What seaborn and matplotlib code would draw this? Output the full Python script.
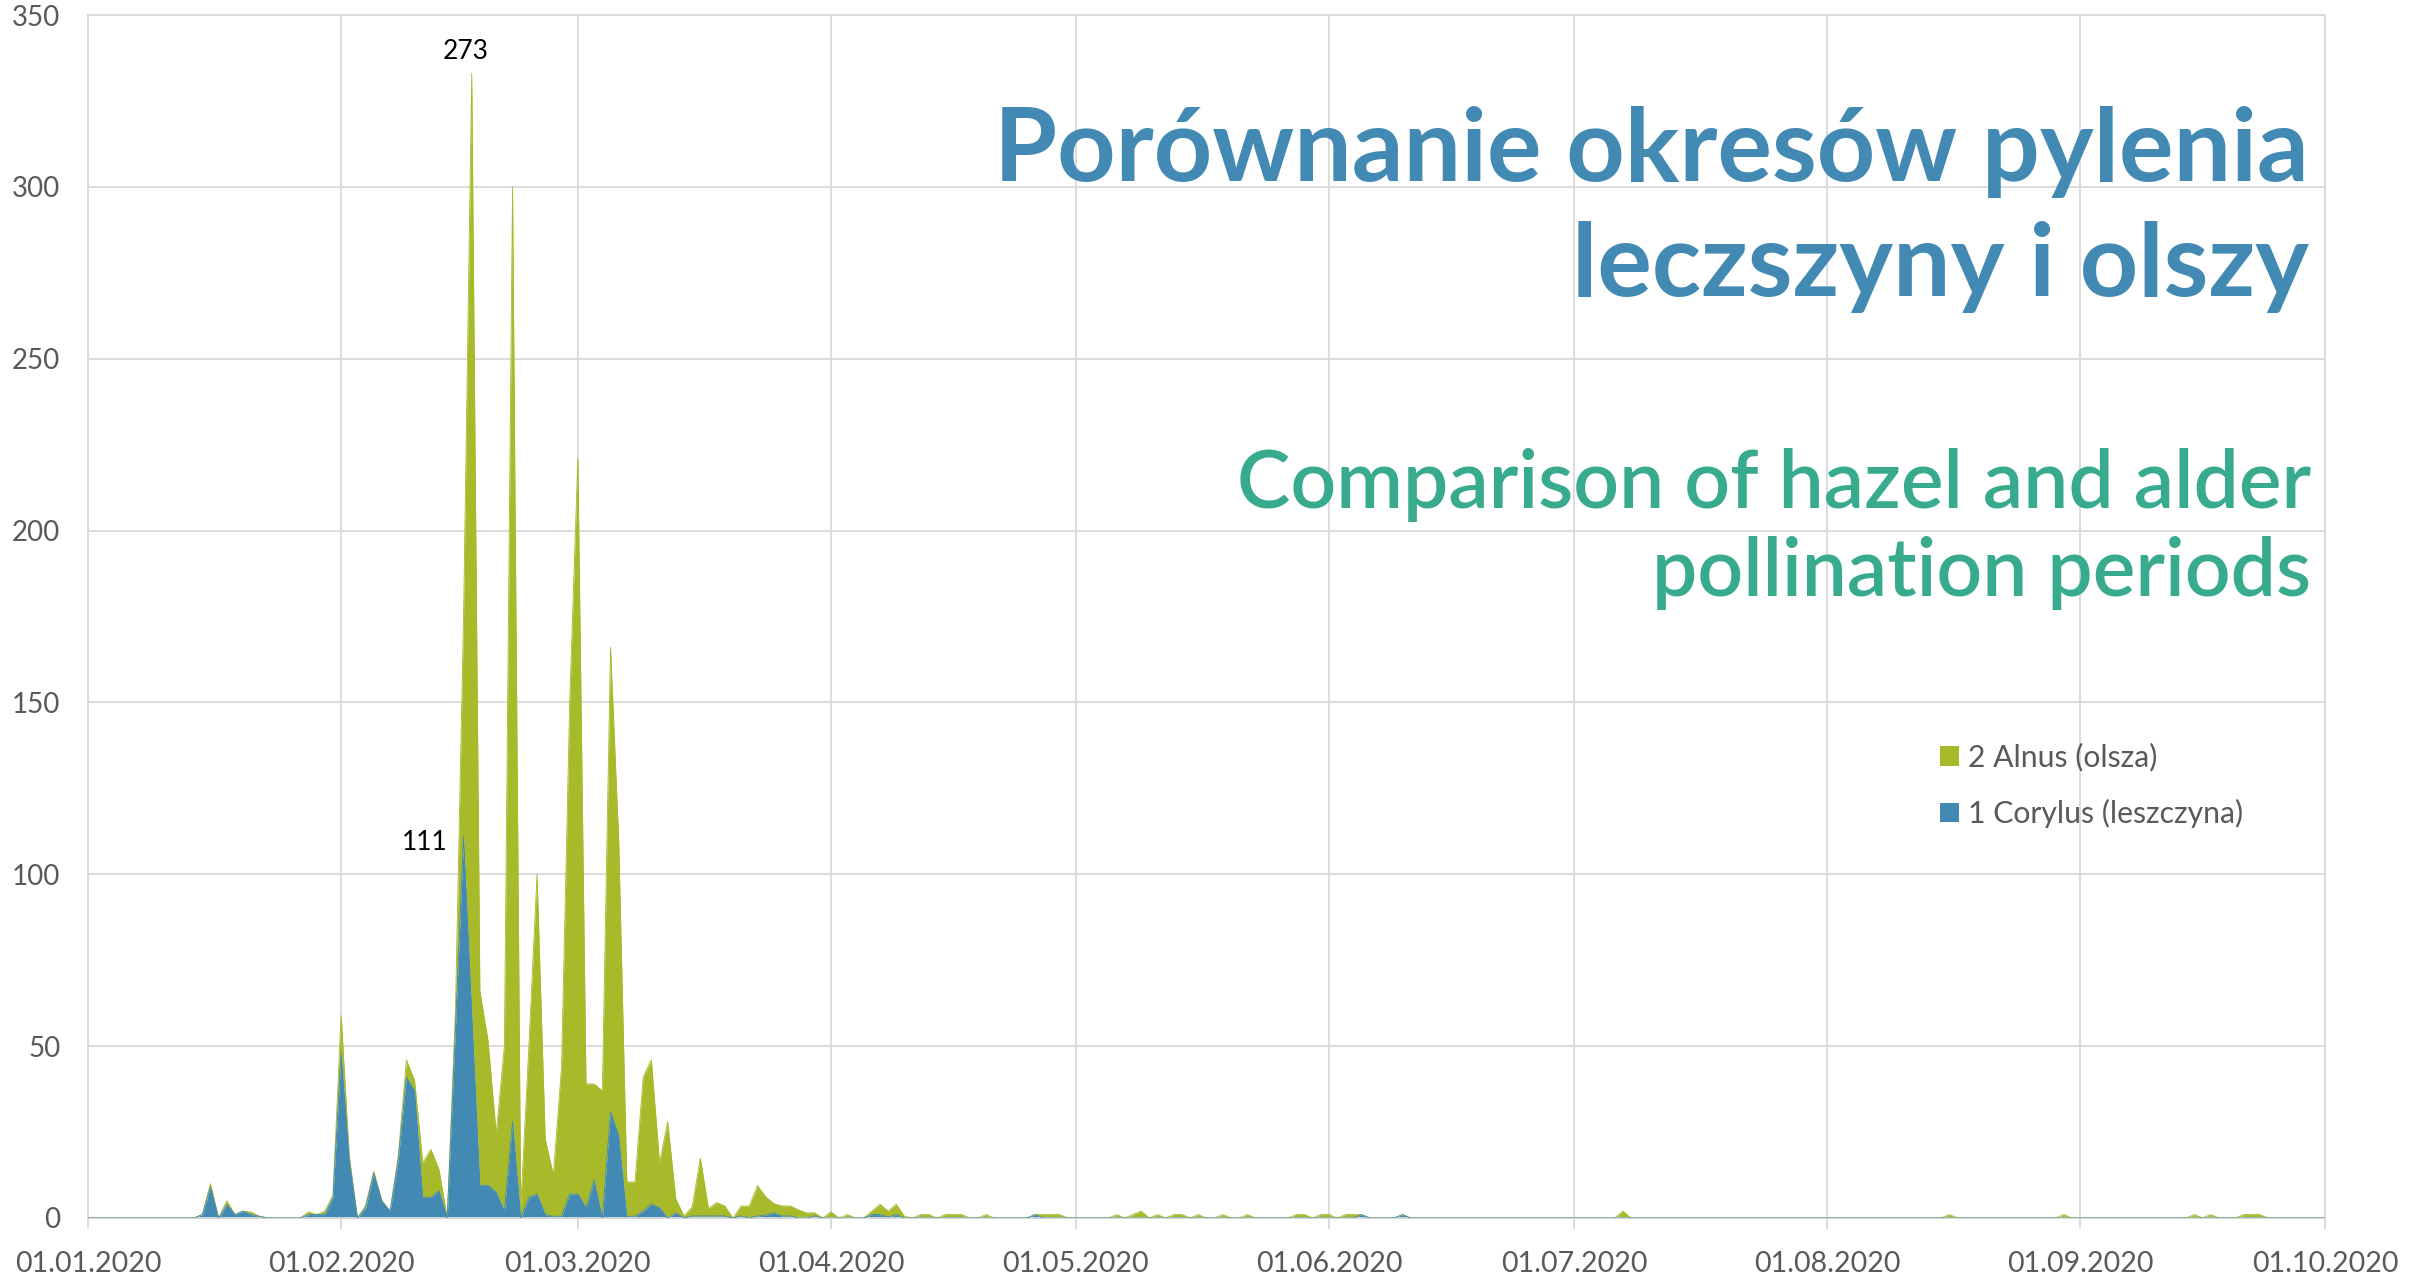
import numpy as np
import pandas as pd
import matplotlib
matplotlib.use("Agg")
import matplotlib.pyplot as plt
import matplotlib.dates as mdates
from matplotlib.patches import Patch
import seaborn as sns

# ---------------- data (daily pollen counts, 2020) ----------------
dense_start = "2020-01-15"   # first day of the dense block
corylus_dense = [1, 9, 0, 4, 1, 2, 1, 0.5, 0, 0, 0, 0, 0,
                 1, 1, 1, 6, 48, 17, 0, 3, 13, 5, 2, 17, 41, 37, 6, 6, 8, 0,
                 55, 111, 60, 9.5, 9.5, 7.5, 2, 28, 0, 6, 7, 1, 0.5, 0.5, 7,
                 7, 3, 11, 0, 31, 24, 0.5, 0.5, 2, 4, 3, 0, 1.5, 0, 0.6, 0.6,
                 0.6, 0.6, 0.6, 0, 0.6, 0, 0.6, 0.8, 1.5, 0.6, 0.6, 0, 0, 0.6,
                 0, 0, 0, 0, 0, 0, 1, 1, 0.3, 1, 0]
alnus_dense = [0, 1, 0, 1, 0, 0, 0.7, 0, 0, 0, 0, 0, 0,
               0.8, 0, 1, 0.5, 11, 1, 0, 0.6, 0.6, 0, 0, 1, 5, 3, 10, 14, 6, 0,
               5, 64, 273, 56.5, 42, 17, 48, 272, 3, 44, 93, 22, 12, 43.5, 143,
               214, 36, 28, 37, 135, 86, 10, 10, 39, 42, 13, 28, 4, 0.6, 2.6,
               16.8, 2.1, 3.9, 2.9, 0, 2.9, 3.5, 8.8, 5.4, 2.7, 2.9, 2.9, 2.4,
               1.5, 0.9, 0, 1.8, 0, 1, 0, 0, 1, 3, 1.7, 3, 0.5]

sparse_dates = ["2020-04-12", "2020-04-13", "2020-04-15", "2020-04-16",
                "2020-04-17", "2020-04-20", "2020-04-26", "2020-04-27",
                "2020-04-28", "2020-04-29", "2020-05-06", "2020-05-08",
                "2020-05-09", "2020-05-11", "2020-05-13", "2020-05-14",
                "2020-05-16", "2020-05-19", "2020-05-22", "2020-05-28",
                "2020-05-29", "2020-05-31", "2020-06-01", "2020-06-03",
                "2020-06-04", "2020-06-05", "2020-06-10", "2020-07-07",
                "2020-08-16", "2020-08-30", "2020-09-15", "2020-09-17",
                "2020-09-21", "2020-09-22", "2020-09-23"]
corylus_sparse = [0, 0, 0, 0, 0, 0, 1, 0, 0, 0, 0, 0, 0, 0, 0, 0, 0, 0, 0, 0,
                  0, 0, 0, 0, 0, 1, 1, 0, 0, 0, 0, 0, 0, 0, 0]
alnus_sparse = [1, 1, 1, 1, 1, 1, 0, 1, 1, 1, 1, 1, 2, 1, 1, 1, 1, 1, 1, 1,
                1, 1, 1, 1, 1, 0, 0, 2, 1, 1, 1, 1, 1, 1, 1]

series_names = ["2 Alnus (olsza)", "1 Corylus (leszczyna)"]
label_peak_alnus = "273"
label_peak_corylus = "111"
x_start, x_end = "2020-01-01", "2020-10-01"
y_max, y_step = 350, 50

# ---------------- build daily series ----------------
days = pd.date_range(x_start, x_end, freq="D")
corylus = pd.Series(0.0, index=days)
alnus = pd.Series(0.0, index=days)
dense_idx = pd.date_range(dense_start, periods=len(corylus_dense), freq="D")
corylus.loc[dense_idx] = corylus_dense
alnus.loc[dense_idx] = alnus_dense
sp_idx = pd.to_datetime(sparse_dates)
corylus.loc[sp_idx] = corylus_sparse
alnus.loc[sp_idx] = alnus_sparse
total = corylus + alnus
df = pd.DataFrame({"date": days, "corylus": corylus.values,
                   "total": total.values})

# ---------------- style ----------------
sns.set_theme(style="white")
plt.rcParams["font.family"] = ["Lato", "DejaVu Sans"]

BLUE = "#428AB4"
GREEN = "#A8B92A"
GRID = "#D9D9D9"
TXT = "#595959"
TITLE_BLUE = "#428AB4"
TITLE_GREEN = "#38AB8E"

W, H = 2430, 1276
fig = plt.figure(figsize=(W / 100, H / 100), dpi=100)
ax = fig.add_axes([88 / W, 58 / H, (2325 - 88) / W, (1218 - 15) / H])

ax.fill_between(df["date"], 0, df["corylus"], color=BLUE, lw=0, zorder=2)
ax.fill_between(df["date"], df["corylus"], df["total"], color=GREEN, lw=0,
                zorder=2)
sns.lineplot(data=df, x="date", y="total", color=GREEN, lw=0.6, ax=ax,
             zorder=3)
sns.lineplot(data=df, x="date", y="corylus", color=BLUE, lw=0.6, ax=ax,
             zorder=3)

ax.set_xlim(pd.Timestamp(x_start), pd.Timestamp(x_end))
ax.set_ylim(0, y_max)
ax.set_yticks(np.arange(0, y_max + 1, y_step))
ax.xaxis.set_major_locator(mdates.MonthLocator())
ax.xaxis.set_major_formatter(mdates.DateFormatter("%d.%m.%Y"))
ax.set_xlabel("")
ax.set_ylabel("")
ax.set_axisbelow(True)
ax.grid(True, color=GRID, lw=1.3, zorder=0)
for s in ax.spines.values():
    s.set_color(GRID)
    s.set_linewidth(1.3)
ax.tick_params(axis="x", length=8, width=1.3, color=GRID, pad=16,
               labelsize=20.5, labelcolor=TXT, bottom=True)
ax.tick_params(axis="y", length=0, pad=20, labelsize=20, labelcolor=TXT)

# data labels
peak_day = total.idxmax()
ax.annotate(label_peak_alnus, xy=(peak_day, total[peak_day]),
            xytext=(-4, 16), textcoords="offset points", ha="center",
            va="center", fontsize=19, color="black")
cpeak_day = corylus.idxmax()
ax.annotate(label_peak_corylus, xy=(cpeak_day, corylus[cpeak_day]),
            xytext=(-28, -4), textcoords="offset points", ha="center",
            va="center", fontsize=19, color="black")

# legend
handles = [Patch(facecolor=GREEN, edgecolor="none"),
           Patch(facecolor=BLUE, edgecolor="none")]
leg = ax.legend(handles, series_names, loc="upper left",
                bbox_to_anchor=(1940 / W, 1 - 743 / H),
                bbox_transform=fig.transFigure, frameon=False, fontsize=21.7,
                handlelength=0.62, handleheight=0.62, handletextpad=0.3,
                labelspacing=0.9, borderpad=0, borderaxespad=0)
for t in leg.get_texts():
    t.set_color(TXT)

# titles, sized to target widths
fig.canvas.draw()
renderer = fig.canvas.get_renderer()


def fit_text(lines, widths, baselines, color, weight, right_x):
    texts = []
    for s, yb in zip(lines, baselines):
        t = fig.text(right_x / W, 1 - yb / H, s, ha="right", va="baseline",
                     fontsize=60, color=color, fontweight=weight)
        texts.append(t)
    fig.canvas.draw()
    w0 = texts[0].get_window_extent(renderer).width
    size = 60 * widths[0] / w0
    for t in texts:
        t.set_fontsize(size)
    return texts


fit_text(["Porównanie okresów pylenia", "leczszyny i olszy"], [1314],
         [181, 296], TITLE_BLUE, "bold", 2309)
fit_text(["Comparison of hazel and alder", "pollination periods"], [1075],
         [508, 596], TITLE_GREEN, "semibold", 2311)

fig.savefig("out.png", dpi=100)
